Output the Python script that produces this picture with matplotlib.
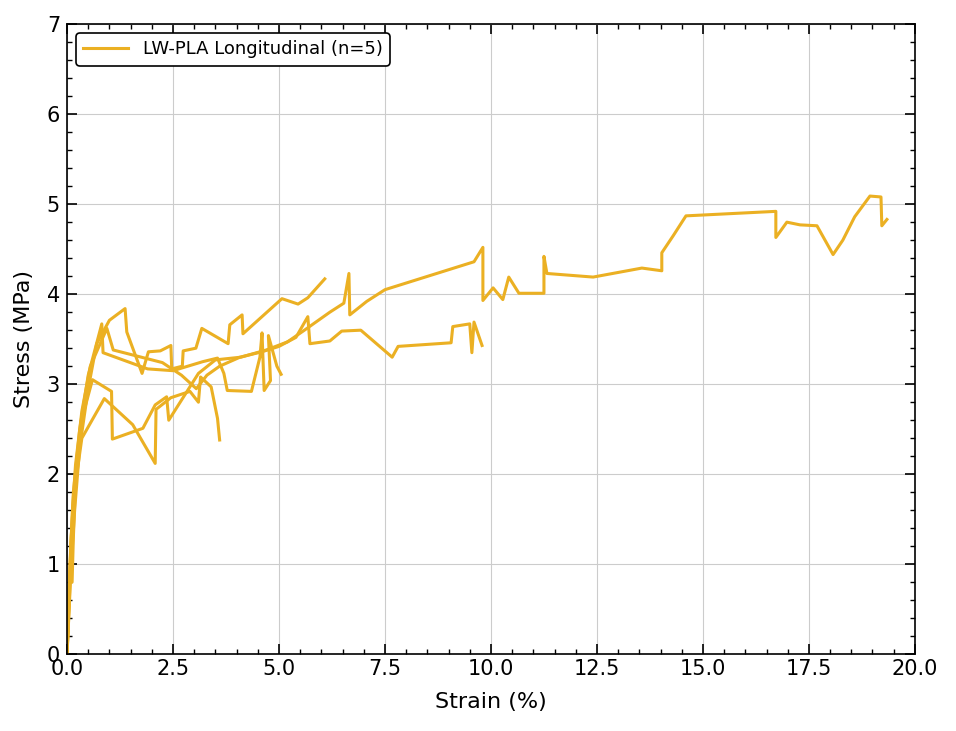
import numpy as np
import matplotlib
matplotlib.use("Agg")
import matplotlib.pyplot as plt
from matplotlib.ticker import MultipleLocator

# five specimens, strain (%) / stress (MPa)
strain_a = [0, 0.03, 0.06, 0.1, 0.15, 0.25, 0.4, 0.6, 1.05, 1.07, 1.79, 2.08, 2.35, 2.4, 3.1,
            3.5, 4.1, 4.7, 5.2, 5.6, 6.2, 6.53, 6.65, 6.67, 7.07, 7.5, 9.6, 9.81, 9.81, 10.05,
            10.28, 10.42, 10.66, 11.25, 11.25, 11.32, 12.41, 13.56, 14.03, 14.03, 14.3, 14.6,
            16.72, 16.72, 16.98, 17.29, 17.69, 18.07, 18.3, 18.58, 18.94, 19.2, 19.22, 19.34]
stress_a = [0, 0.4, 0.8, 1.3, 1.7, 2.2, 2.7, 3.05, 2.92, 2.39, 2.51, 2.77, 2.86, 2.6, 3.12,
            3.27, 3.3, 3.38, 3.47, 3.6, 3.8, 3.9, 4.23, 3.77, 3.92, 4.05, 4.36, 4.52, 3.93, 4.07,
            3.94, 4.19, 4.01, 4.01, 4.42, 4.23, 4.19, 4.29, 4.26, 4.46, 4.65, 4.87,
            4.92, 4.63, 4.8, 4.77, 4.76, 4.44, 4.6, 4.86, 5.09, 5.08, 4.76, 4.83]

strain_b = [0, 0.04, 0.08, 0.13, 0.2, 0.35, 0.55, 0.94, 1.09, 2.25, 2.7, 3.05, 3.3, 3.6, 4.08,
            4.6, 5.0, 5.4, 5.68, 5.73, 6.2, 6.48, 6.93, 7.67, 7.81, 9.06, 9.1, 9.5, 9.55, 9.6, 9.79]
stress_b = [0, 0.5, 1.1, 1.6, 2.1, 2.7, 3.2, 3.62, 3.38, 3.24, 3.1, 2.95, 3.1, 3.2, 3.3,
            3.36, 3.42, 3.52, 3.75, 3.45, 3.48, 3.59, 3.6, 3.3, 3.42, 3.46, 3.64, 3.67, 3.35, 3.69, 3.43]

strain_c = [0, 0.05, 0.1, 0.18, 0.3, 0.5, 0.7, 1.0, 1.37, 1.41, 1.77, 1.92, 2.2, 2.45, 2.47,
            2.72, 2.74, 3.04, 3.18, 3.8, 3.84, 4.13, 4.15, 5.07, 5.45, 5.68, 6.08]
stress_c = [0, 0.5, 1.0, 1.6, 2.3, 2.95, 3.45, 3.71, 3.84, 3.58, 3.12, 3.36, 3.37, 3.43, 3.17,
            3.2, 3.37, 3.4, 3.62, 3.45, 3.66, 3.77, 3.56, 3.95, 3.89, 3.96, 4.17]

strain_d = [0, 0.04, 0.09, 0.15, 0.3, 0.5, 0.82, 0.85, 1.9, 2.5, 3.2, 3.55, 3.7, 3.78, 4.35,
            4.55, 4.6, 4.65, 4.8, 4.75, 4.95, 5.05]
stress_d = [0, 0.6, 1.2, 1.8, 2.5, 3.1, 3.67, 3.35, 3.17, 3.15, 3.25, 3.29, 3.12, 2.93, 2.92,
            3.3, 3.57, 2.93, 3.04, 3.54, 3.2, 3.11]

strain_e = [0, 0.03, 0.07, 0.12, 0.15, 0.2, 0.35, 0.59, 0.88, 1.55, 2.08, 2.1, 2.45, 2.9, 3.1,
            3.15, 3.4, 3.55, 3.6]
stress_e = [0, 0.3, 0.8, 0.8, 1.3, 1.9, 2.4, 2.6, 2.84, 2.55, 2.12, 2.72, 2.85, 2.92, 2.8,
            3.08, 2.97, 2.62, 2.38]

curves = [(strain_a, stress_a), (strain_b, stress_b), (strain_c, stress_c),
          (strain_d, stress_d), (strain_e, stress_e)]

color = '#EBB023'

fig = plt.figure(figsize=(9.56, 7.31), dpi=100)
ax = fig.add_subplot(111)
fig.subplots_adjust(left=0.0701, right=0.957, top=0.967, bottom=0.105)

for i, (x, y) in enumerate(curves):
    ax.plot(x, y, color=color, lw=2.2,
            label='LW-PLA Longitudinal (n=5)' if i == 0 else None)

ax.set_xlim(0, 20)
ax.set_ylim(0, 7)
ax.xaxis.set_major_locator(MultipleLocator(2.5))
ax.xaxis.set_minor_locator(MultipleLocator(0.5))
ax.yaxis.set_major_locator(MultipleLocator(1))
ax.yaxis.set_minor_locator(MultipleLocator(0.2))
ax.tick_params(which='both', direction='in', top=True, right=True, labelsize=15)
ax.tick_params(which='major', length=7, width=1.2)
ax.tick_params(which='minor', length=3.5, width=1)
ax.tick_params(axis='y', pad=5)
for s in ax.spines.values():
    s.set_linewidth(1.2)
ax.grid(True, which='major', color='#cccccc', lw=0.8)
ax.set_axisbelow(True)

ax.set_xlabel('Strain (%)', fontsize=16, labelpad=9)
ax.set_ylabel('Stress (MPa)', fontsize=16, labelpad=9)

leg = ax.legend(loc='upper left', fontsize=13, frameon=True, fancybox=True,
                framealpha=1, edgecolor='black', handlelength=2.5)
leg.get_frame().set_linewidth(1.2)

fig.savefig('out.png', dpi=100)
